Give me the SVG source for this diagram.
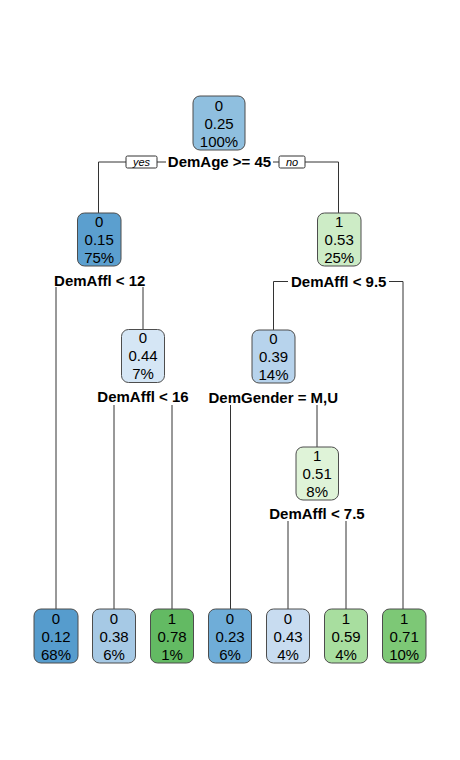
<svg xmlns="http://www.w3.org/2000/svg" width="460" height="760" viewBox="0 0 460 760">
<style>
.box{stroke:#4d4d4d;stroke-width:1}
.t{font-family:"Liberation Sans",Arial,sans-serif;font-size:15px;fill:#000;text-anchor:middle}
.s{font-family:"Liberation Sans",Arial,sans-serif;font-size:15px;font-weight:bold;fill:#000;text-anchor:middle}
.yn{font-family:"Liberation Sans",Arial,sans-serif;font-size:11px;font-style:italic;fill:#000;text-anchor:middle}
.ln{stroke:#333;stroke-width:1;fill:none}
.ynb{fill:#fff;stroke:#333;stroke-width:1}
</style>
<rect width="460" height="760" fill="#fff"/>
<g id="connectors">
<path class="ln" d="M98.5,213 V162 H126 M157,162 H166 M273,162 H279 M305,162 H338.5 V213"/>
<rect class="ynb" x="126" y="156" width="31" height="12" rx="1.5"/>
<text class="yn" x="141.5" y="166">yes</text>
<rect class="ynb" x="279" y="156" width="26" height="12" rx="1.5"/>
<text class="yn" x="292" y="166">no</text>
<path class="ln" d="M56,287 V609 M143,287 V329.5"/>
<path class="ln" d="M273.5,330 V281.5 H288 M389,281.5 H403 V609"/>
<path class="ln" d="M114,405 V609 M172,405 V609"/>
<path class="ln" d="M230.5,405 V609 M317,405 V447"/>
<path class="ln" d="M288,521 V609 M346,521 V609"/>
</g>
<g id="node1">
<rect class="box" x="193" y="96" width="52" height="54" rx="7" fill="#8fbfdf"/>
<text class="t" x="219" y="110.5">0</text>
<text class="t" x="219" y="128.5">0.25</text>
<text class="t" x="219" y="146.5">100%</text>
<text class="s" x="219.5" y="167.3">DemAge &gt;= 45</text>
</g>
<g id="node2">
<rect class="box" x="77.5" y="213" width="43.5" height="53" rx="7" fill="#5b9fcf"/>
<text class="t" x="99.2" y="226.5">0</text>
<text class="t" x="99.2" y="244.5">0.15</text>
<text class="t" x="99.2" y="262.5">75%</text>
<text class="s" x="99.7" y="286.3">DemAffl &lt; 12</text>
</g>
<g id="node3">
<rect class="box" x="317.5" y="213" width="43.5" height="53" rx="7" fill="#cdecc6"/>
<text class="t" x="339.2" y="226.5">1</text>
<text class="t" x="339.2" y="244.5">0.53</text>
<text class="t" x="339.2" y="262.5">25%</text>
<text class="s" x="338.7" y="287">DemAffl &lt; 9.5</text>
</g>
<g id="node5">
<rect class="box" x="121.5" y="329.5" width="43" height="53" rx="7" fill="#d5e6f5"/>
<text class="t" x="143" y="343">0</text>
<text class="t" x="143" y="361">0.44</text>
<text class="t" x="143" y="379">7%</text>
<text class="s" x="143" y="402">DemAffl &lt; 16</text>
</g>
<g id="node6">
<rect class="box" x="252" y="330" width="43" height="53" rx="7" fill="#b7d3ec"/>
<text class="t" x="273.5" y="343.5">0</text>
<text class="t" x="273.5" y="361.5">0.39</text>
<text class="t" x="273.5" y="379.5">14%</text>
<text class="s" x="273.3" y="402.6">DemGender = M,U</text>
</g>
<g id="node13">
<rect class="box" x="296" y="447" width="42.5" height="53" rx="7" fill="#dff3d8"/>
<text class="t" x="317.2" y="460.5">1</text>
<text class="t" x="317.2" y="478.5">0.51</text>
<text class="t" x="317.2" y="496.5">8%</text>
<text class="s" x="317" y="519.3">DemAffl &lt; 7.5</text>
</g>
<g id="leaf4">
<rect class="box" x="34" y="609" width="44" height="54" rx="7" fill="#569ccd"/>
<text class="t" x="56" y="624">0</text>
<text class="t" x="56" y="642">0.12</text>
<text class="t" x="56" y="660">68%</text>
</g>
<g id="leaf10">
<rect class="box" x="92.5" y="609" width="43" height="54" rx="7" fill="#a6c9e5"/>
<text class="t" x="114" y="624">0</text>
<text class="t" x="114" y="642">0.38</text>
<text class="t" x="114" y="660">6%</text>
</g>
<g id="leaf11">
<rect class="box" x="150.5" y="609" width="43" height="54" rx="7" fill="#63ba63"/>
<text class="t" x="172" y="624">1</text>
<text class="t" x="172" y="642">0.78</text>
<text class="t" x="172" y="660">1%</text>
</g>
<g id="leaf12">
<rect class="box" x="208.5" y="609" width="43" height="54" rx="7" fill="#6fadd8"/>
<text class="t" x="230" y="624">0</text>
<text class="t" x="230" y="642">0.23</text>
<text class="t" x="230" y="660">6%</text>
</g>
<g id="leaf26">
<rect class="box" x="266.5" y="609" width="43" height="54" rx="7" fill="#c8dcf0"/>
<text class="t" x="288" y="624">0</text>
<text class="t" x="288" y="642">0.43</text>
<text class="t" x="288" y="660">4%</text>
</g>
<g id="leaf27">
<rect class="box" x="324.5" y="609" width="43" height="54" rx="7" fill="#a8de9f"/>
<text class="t" x="346" y="624">1</text>
<text class="t" x="346" y="642">0.59</text>
<text class="t" x="346" y="660">4%</text>
</g>
<g id="leaf7">
<rect class="box" x="382.5" y="609" width="43.5" height="54" rx="7" fill="#7dc876"/>
<text class="t" x="404.2" y="624">1</text>
<text class="t" x="404.2" y="642">0.71</text>
<text class="t" x="404.2" y="660">10%</text>
</g>
</svg>
